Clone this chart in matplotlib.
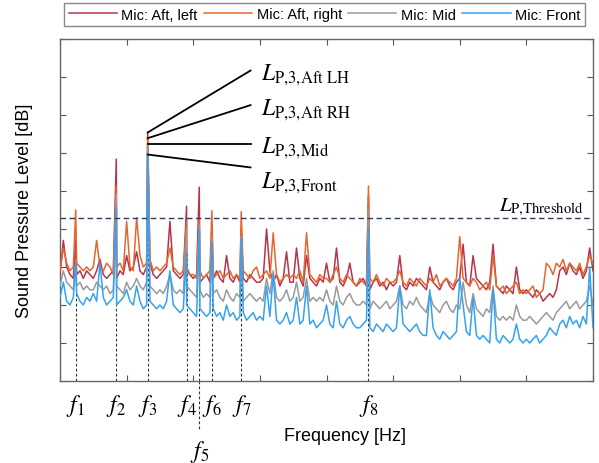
"""
Spectrum of four microphones with marked tonal peaks f1..f8 and a threshold level.
"""

import numpy as np
import matplotlib
matplotlib.use("Agg")
import matplotlib.pyplot as plt
import matplotlib.transforms as mtransforms

# -- data (arbitrary dB units, 10 per tick) ------------------------------------
FREQ_STEP = 0.05          # grid of the broadband spectrum (x units, 1 per tick)

SPL_AFT_LEFT = [
    28, 37, 30, 28, 27, 28, 29, 27, 29, 28,
    27, 29, 32, 28, 27, 28, 29, 27, 29, 28,
    33, 29, 30, 34, 29, 28, 30, 31, 28, 27,
    28, 29, 30, 42, 29, 28, 27, 28, 29, 28,
    27, 28, 26, 27, 28, 26, 27, 29, 27, 26,
    33, 27, 26, 28, 26, 27, 26, 28, 27, 26,
    26, 27, 40, 29, 26, 28, 25, 27, 34, 26,
    26, 35, 27, 25, 33, 27, 26, 25, 27, 26,
    31, 26, 27, 35, 26, 25, 27, 31, 26, 25,
    26, 27, 25, 24, 26, 27, 25, 26, 24, 26,
    25, 26, 33, 25, 24, 26, 25, 27, 26, 25,
    24, 30, 26, 25, 24, 26, 27, 25, 24, 26,
    27, 36, 26, 25, 33, 27, 26, 25, 24, 26,
    36, 25, 24, 23, 25, 24, 23, 30, 24, 23,
    24, 23, 22, 24, 23, 21, 22, 23, 22, 24,
    29, 30, 28, 31, 29, 28, 30, 27, 29, 35,
    29,
]
SPL_AFT_RIGHT = [
    29, 35, 31, 29, 30, 31, 30, 29, 30, 29,
    30, 37, 30, 29, 31, 30, 28, 30, 31, 29,
    42, 30, 29, 43, 33, 30, 31, 32, 29, 30,
    29, 30, 31, 35, 30, 29, 28, 29, 30, 28,
    28, 27, 29, 27, 28, 29, 27, 28, 29, 27,
    28, 29, 27, 28, 27, 29, 28, 27, 29, 30,
    27, 28, 29, 27, 39, 28, 26, 27, 28, 27,
    28, 27, 29, 26, 39, 28, 27, 26, 28, 27,
    27, 26, 28, 30, 27, 26, 28, 27, 26, 25,
    27, 26, 25, 27, 26, 28, 26, 25, 27, 26,
    26, 27, 29, 26, 25, 27, 26, 25, 27, 26,
    25, 27, 26, 28, 25, 26, 27, 26, 25, 27,
    38, 27, 26, 25, 27, 26, 24, 25, 26, 24,
    33, 25, 24, 25, 23, 24, 25, 26, 23, 24,
    23, 24, 25, 22, 23, 24, 31, 30, 28, 31,
    30, 32, 29, 31, 30, 29, 31, 28, 30, 33,
    31,
]
SPL_MID = [
    25, 29, 26, 25, 24, 25, 26, 24, 25, 24,
    24, 26, 25, 24, 25, 23, 24, 25, 24, 23,
    26, 24, 25, 27, 25, 24, 26, 25, 24, 23,
    24, 23, 25, 28, 24, 23, 24, 23, 25, 24,
    23, 22, 24, 22, 23, 22, 23, 24, 22, 21,
    24, 22, 21, 23, 22, 21, 22, 23, 22, 21,
    22, 21, 27, 23, 29, 22, 21, 22, 24, 21,
    22, 26, 21, 22, 27, 21, 22, 21, 22, 21,
    24, 21, 20, 25, 21, 20, 22, 23, 21, 20,
    20, 21, 20, 19, 21, 20, 19, 20, 21, 19,
    20, 21, 25, 20, 19, 21, 20, 22, 20, 19,
    18, 23, 20, 19, 18, 20, 21, 19, 18, 20,
    19, 26, 20, 18, 23, 19, 18, 17, 19, 18,
    25, 17, 16, 17, 16, 17, 16, 20, 17, 16,
    16, 17, 16, 15, 16, 17, 18, 17, 16, 18,
    19, 20, 21, 19, 20, 21, 19, 20, 21, 25,
    20,
]
SPL_FRONT = [
    22, 26, 21, 20, 22, 23, 21, 20, 22, 21,
    23, 21, 31, 22, 20, 21, 22, 20, 21, 22,
    24, 21, 20, 25, 21, 19, 20, 21, 20, 19,
    20, 19, 21, 29, 20, 19, 18, 19, 20, 19,
    18, 17, 19, 18, 17, 18, 19, 17, 18, 16,
    20, 17, 18, 16, 17, 18, 16, 17, 18, 16,
    17, 16, 25, 17, 28, 16, 15, 16, 18, 15,
    16, 22, 15, 16, 25, 15, 16, 14, 15, 16,
    20, 15, 14, 21, 15, 14, 16, 17, 15, 14,
    14, 15, 16, 14, 13, 15, 14, 13, 15, 14,
    13, 14, 25, 15, 14, 13, 14, 15, 13, 12,
    12, 24, 14, 12, 11, 13, 12, 11, 12, 13,
    27, 20, 13, 12, 22, 12, 11, 12, 11, 10,
    24, 11, 10, 12, 11, 10, 11, 15, 11, 10,
    11, 10, 11, 12, 10, 11, 12, 14, 13, 12,
    15, 16, 14, 17, 15, 16, 14, 17, 15, 30,
    14,
]

# tonal peaks f1..f8
PEAK_FREQ = [0.236, 0.845, 1.316, 1.90, 2.09, 2.28, 2.72, 4.63]
PEAK_LABELS = ["1", "2", "3", "4", "5", "6", "7", "8"]
PEAK_AFT_LEFT  = [37.0, 58.4, 65.4, 46.0, 51.0, 41.0, 40.0, 48.8]
PEAK_AFT_RIGHT = [45.0, 51.4, 63.9, 42.0, 42.6, 44.8, 44.6, 51.3]
PEAK_MID       = [31.0, 49.0, 62.5, 40.0, 41.0, 38.0, 38.0, 45.0]
PEAK_FRONT     = [31.0, 45.5, 59.6, 34.0, 40.0, 36.6, 37.4, 40.5]

THRESHOLD = 42.8

SERIES = [
    ("Mic: Aft, left",  SPL_AFT_LEFT,  PEAK_AFT_LEFT,  "#b8334c"),
    ("Mic: Aft, right", SPL_AFT_RIGHT, PEAK_AFT_RIGHT, "#e4672e"),
    ("Mic: Mid",        SPL_MID,       PEAK_MID,       "#9a9a9a"),
    ("Mic: Front",      SPL_FRONT,     PEAK_FRONT,     "#35a2f2"),
]

# annotation of the f3 levels
F3_LABELS = [r"$L_{\mathrm{P{,}3{,}Aft\ LH}}$", r"$L_{\mathrm{P{,}3{,}Aft\ RH}}$",
             r"$L_{\mathrm{P{,}3{,}Mid}}$", r"$L_{\mathrm{P{,}3{,}Front}}$"]
F3_LINE_END = [81.7, 72.6, 62.5, 56.2]
F3_TEXT_Y = [80.6, 71.4, 61.6, 52.4]

# -- style ---------------------------------------------------------------------
plt.rcParams.update({
    "font.family": ["Liberation Sans", "DejaVu Sans"],
    "mathtext.fontset": "stix",
})

fig = plt.figure(figsize=(5.99, 4.64), dpi=100)
ax = fig.add_axes([60 / 599, 1 - 382 / 464, 533 / 599, 342 / 464])

# -- spectra -------------------------------------------------------------------
grid = np.arange(len(SPL_AFT_LEFT)) * FREQ_STEP
for name, spl, peaks, color in SERIES:
    x = np.concatenate([grid, PEAK_FREQ])
    y = np.concatenate([spl, peaks])
    order = np.argsort(x, kind="stable")
    ax.plot(x[order], y[order], color=color, lw=1.1, label=name, zorder=3)

# threshold
ax.axhline(THRESHOLD, color="#2d3e5a", lw=1.0, ls=(0, (4, 2.5)), zorder=4)
ax.text(7.86, THRESHOLD + 0.4, r"$L_{\mathrm{P{,}Threshold}}$", fontsize=15,
        ha="right", va="bottom", color="black")

# peak markers below the spectrum
blend = mtransforms.blended_transform_factory(ax.transData, ax.transAxes)
for f, lbl, ytop in zip(PEAK_FREQ, PEAK_LABELS, PEAK_FRONT):
    ax.plot([f, f], [0, ytop], color="#333333", lw=0.8, ls=(0, (2.5, 2)), zorder=2)
    ty = -0.07
    if lbl == "5":
        ax.plot([f, f], [0, -0.145], transform=blend, color="#333333", lw=0.8,
                ls=(0, (2.5, 2)), clip_on=False)
        ty = -0.205
    ax.text(f, ty, f"$f_{lbl}$", transform=blend, fontsize=17,
            ha="center", va="center")

# f3 annotation lines
f3_levels = [PEAK_AFT_LEFT[2], PEAK_AFT_RIGHT[2], PEAK_MID[2], PEAK_FRONT[2]]
for lbl, y0, y1, yt in zip(F3_LABELS, f3_levels, F3_LINE_END, F3_TEXT_Y):
    ax.plot([PEAK_FREQ[2], 2.86], [y0, y1], color="black", lw=1.3, zorder=5)
    ax.text(3.02, yt, lbl, fontsize=17, ha="left", va="center")

# -- axes ----------------------------------------------------------------------
ax.set_xlim(0, 8)
ax.set_ylim(0, 90)
ax.set_xticks(np.arange(0, 9, 1))
ax.set_yticks(np.arange(0, 91, 10))
ax.tick_params(direction="in", length=4, color="#555555",
               top=True, right=True, labelbottom=False, labelleft=False)
for s in ax.spines.values():
    s.set_color("#666666")
    s.set_linewidth(1.0)

fig.text(345 / 599, 1 - 437 / 464, "Frequency [Hz]", fontsize=13,
         ha="center", va="center")
fig.text(25 / 599, 1 - 211 / 464, "Sound Pressure Level [dB]", fontsize=13,
         rotation=90, ha="center", va="center")

fig.legend(loc="center", ncol=4, mode="expand",
           bbox_to_anchor=(57 / 599, 1 - 29 / 464, 535 / 599, 27 / 464),
           fontsize=10.5, handlelength=3.3, handletextpad=0.3,
           columnspacing=0.6, borderpad=0.3, fancybox=False,
           edgecolor="#888888", framealpha=1)

fig.savefig("out.png", dpi=100)
plt.close(fig)
